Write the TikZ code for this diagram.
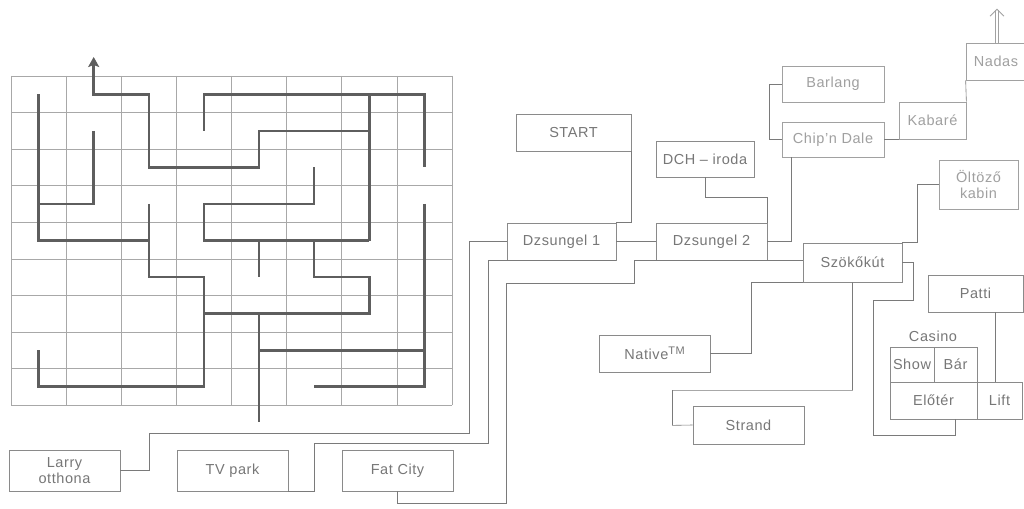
\documentclass[tikz,border=0pt]{standalone}
\usepackage{fontspec}
\setmainfont{Liberation Sans}[LetterSpace=4]
\usetikzlibrary{arrows.meta}
\definecolor{boxc}{HTML}{8A8A8A}
\definecolor{linec}{HTML}{7A7A7A}
\definecolor{txt}{HTML}{777777}
\definecolor{txtlight}{HTML}{A0A0A0}
\definecolor{gridc}{HTML}{A8A8A8}
\definecolor{mazec}{HTML}{5E5E5E}
\begin{document}
\begin{tikzpicture}[x=1pt,y=-1pt,
  box/.style={draw=boxc, line width=0.7pt, inner sep=0pt, text=txt, align=center,
    font=\fontsize{14.5}{16}\selectfont},
  lightbox/.style={box, text=txtlight, draw=boxc!80},
  lbl/.style={inner sep=0pt, text=txt, font=\fontsize{14.5}{16}\selectfont},
  conn/.style={draw=linec, line width=0.6pt},
  gridline/.style={draw=gridc, line width=0.6pt},
  maze/.style={draw=mazec, line width=2.6pt, line join=miter, line cap=butt}]
\fill[white] (0,0) rectangle (1024,508);
\useasboundingbox (0,0) rectangle (1024,508);

% ---------- maze grid ----------
\begin{scope}[shift={(11,76)}, x=55.125pt, y=-36.56pt]
  \foreach \i in {0,...,8} \draw[gridline] (\i,0) -- (\i,9);
  \foreach \j in {0,...,9} \draw[gridline] (0,\j) -- (8,\j);
\end{scope}

% ---------- maze path ----------
\begin{scope}[shift={(38.56,94.28)}, x=55.125pt, y=-36.56pt]
  \draw[maze, -{Stealth[length=10pt,width=11pt,inset=2pt]}] (6,1) -- (4,1) -- (4,2) -- (2,2) -- (2,0) -- (1,0) -- (1,-1.02);
  \draw[maze] (6,0) -- (6,4);
  \draw[maze] (3,1) -- (3,0) -- (7,0) -- (7,2);
  \draw[maze] (5,2) -- (5,3) -- (3,3) -- (3,4) -- (6,4);
  \draw[maze] (0,0) -- (0,4) -- (2,4);
  \draw[maze] (2,3) -- (2,5) -- (3,5) -- (3,8) -- (0,8) -- (0,7);
  \draw[maze] (1,1) -- (1,3) -- (0,3);
  \draw[maze] (3,6) -- (6,6) -- (6,5) -- (5,5) -- (5,4);
  \draw[maze] (4,4) -- (4,5);
  \draw[maze] (4,6) -- (4,8.96);
  \draw[maze] (4,7) -- (7,7);
  \draw[maze] (7,3) -- (7,8) -- (5,8);
\end{scope}

% ---------- boxes ----------
\node[box, minimum width=111pt, minimum height=41pt] (larry) at (64.5,470.5) {Larry\\otthona};
\node[box, minimum width=111pt, minimum height=41pt] (tv) at (232.5,470.5) {TV park};
\node[box, minimum width=111pt, minimum height=41pt] (fat) at (397.5,470.5) {Fat City};
\node[box, minimum width=115pt, minimum height=37pt] (start) at (573.5,132.5) {START};
\node[box, minimum width=109pt, minimum height=37pt] (dz1) at (561.5,241.5) {Dzsungel 1};
\node[box, minimum width=111pt, minimum height=37pt] (dz2) at (711.5,241.5) {Dzsungel 2};
\node[box, minimum width=98pt, minimum height=36pt] (dch) at (705,159) {DCH – iroda};
\node[lightbox, minimum width=102pt, minimum height=36pt] (barlang) at (833,84) {Barlang};
\node[lightbox, minimum width=102pt, minimum height=35pt] (chip) at (833,139.5) {Chip'n Dale};
\node[lightbox, minimum width=67pt, minimum height=37pt] (kabare) at (932.5,120.5) {Kabaré};
\node[lightbox, minimum width=60pt, minimum height=37pt] (nadas) at (996,61.5) {Nadas};
\node[lightbox, minimum width=79pt, minimum height=49pt] (oltozo) at (978.5,184.5) {Öltöző\\kabin};
\node[box, minimum width=99pt, minimum height=39pt] (szok) at (852.5,262.5) {Szökőkút};
\node[box, minimum width=111pt, minimum height=37pt] (native) at (654.5,353.5) {Native\raisebox{5pt}{\fontsize{11}{11}\selectfont TM}};
\node[box, minimum width=111pt, minimum height=38pt] (strand) at (748.5,425) {Strand};
\node[box, minimum width=95pt, minimum height=37pt] (patti) at (975.5,293.5) {Patti};
\node[lbl] (casino) at (933,336) {Casino};
\node[box, minimum width=44pt, minimum height=35pt] (show) at (912,364.5) {Show};
\node[box, minimum width=43pt, minimum height=35pt] (bar) at (955.5,364.5) {Bár};
\node[box, minimum width=87pt, minimum height=37pt] (eloter) at (933.5,400.5) {Előtér};
\node[box, minimum width=45pt, minimum height=37pt] (lift) at (999.5,400.5) {Lift};

% ---------- connectors ----------
\draw[conn] (larry.east) -- ++(29,0) |- (469,433) |- (dz1.west);
\draw[conn] (tv.south east) -- ++(26,0) |- (488,443) |- (dz1.south east);
\draw[conn] (fat.south) |- (506,503) |- (634,283) |- (dz2.south east) -- (szok.west |- dz2.south east);
\draw[conn] (start.south east) |- (dz1.north east);
\draw[conn] (dz1.east) -- (dz2.west);
\draw[conn] (dch.south) -- ++(0,20) -| (dz2.north east);
\draw[conn] ([xshift=10pt]chip.south west) |- (dz2.east);
\draw[conn] (barlang.west) -- ++(-12,0) |- (chip.west);
\draw[conn] (chip.east) -- (chip.east -| kabare.west);
\draw[conn] (kabare.north east) -- (nadas.south west);
\draw[draw=boxc!80, line width=0.8pt, double=white, double distance=2.6pt, -{Straight Barb[length=7pt,width=14pt]}] ([xshift=1pt]nadas.north) -- ++(0,-34);
\draw[conn] (szok.north east) -- ++(15,0) |- (oltozo.west);
\draw[conn] (native.east) -- ++(41,0) |- (szok.south west);
\draw[conn] (szok.south) -- ++(0,108) -| ++(-180,35) -- (strand.west);
\draw[conn] (szok.east) -- ++(11,0) |- (873,300) |- (955,435) -- ([xshift=21.5pt]eloter.south);
\draw[conn] ([xshift=19.5pt]patti.south) -- ([xshift=-4.5pt]lift.north);
\end{tikzpicture}
\end{document}
